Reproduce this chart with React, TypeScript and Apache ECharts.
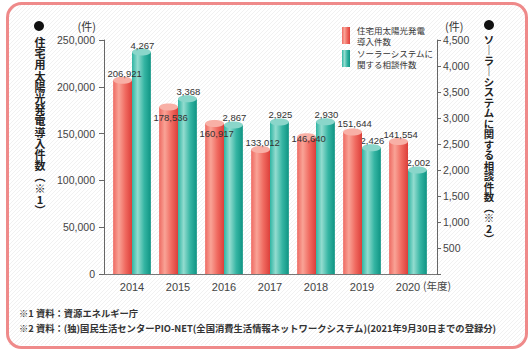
import React, { useEffect, useRef } from "react";
import * as echarts from "echarts";

// ---- data ----
const years = ["2014", "2015", "2016", "2017", "2018", "2019", "2020"];
const solarInstalls = [206921, 178536, 160917, 133012, 146640, 151644, 141554];
const consultations = [4267, 3368, 2867, 2925, 2930, 2426, 2002];
const leftMax = 250000;
const leftInterval = 50000;
const rightMax = 4500;
const rightInterval = 500;

const seriesNames = ["住宅用太陽光発電\n導入件数", "ソーラーシステムに\n関する相談件数"];
const leftTitle = "住宅用太陽光発電導入件数︵※1︶";
const rightTitle = "ソ｜ラ｜システムに関する相談件数︵※2︶";
const unitText = "(件)";
const yearUnit = "(年度)";
const note1 = "※1 資料：資源エネルギー庁";
const note2 = "※2 資料：(独)国民生活センターPIO-NET(全国消費生活情報ネットワークシステム)(2021年9月30日までの登録分)";

// label nudges (vertical, px) to mimic the reference's hand placement
const installLabelNudge = [0, 18, 17, 0, 9, -2, 0];
const consultLabelNudge = [0, 0, 0, 0, 0, 0, 0];

const JP = '"Noto Sans CJK JP", sans-serif';
const NUM = '"Liberation Sans", Arial, sans-serif';

const RED = {
  body: [
    { offset: 0, color: "#ee6a62" },
    { offset: 0.3, color: "#f9a396" },
    { offset: 0.65, color: "#f06a60" },
    { offset: 1, color: "#dc3f3a" },
  ],
  top: "#f8b0a6",
};
const TEAL = {
  body: [
    { offset: 0, color: "#2fb5a3" },
    { offset: 0.3, color: "#93dccf" },
    { offset: 0.65, color: "#35b5a3" },
    { offset: 1, color: "#0f9483" },
  ],
  top: "#8ad6ca",
};

const fmt = (v: number) => v.toLocaleString("en-US");

function makeCylinder(side: number, pal: any, nudges: number[], labelDx: number) {
  return (params: any, api: any) => {
    const i = params.dataIndex;
    const top = api.coord([api.value(0), api.value(1)]);
    const base = api.coord([api.value(0), 0]);
    const band = api.size([1, 0])[0];
    const w = band * 0.41;
    const cx = top[0] + (side * w) / 2;
    const ry = 3.5;
    return {
      type: "group",
      children: [
        {
          type: "rect",
          shape: { x: cx - w / 2, y: top[1], width: w, height: base[1] - top[1] },
          style: { fill: new echarts.graphic.LinearGradient(0, 0, 1, 0, pal.body) },
        },
        {
          type: "ellipse",
          shape: { cx, cy: top[1], rx: w / 2, ry },
          style: { fill: pal.top },
        },
        {
          type: "text",
          x: cx + labelDx,
          y: top[1] - 7 + nudges[i],
          z2: 10,
          style: {
            text: fmt(api.value(1)),
            fill: "#333",
            font: `9.5px ${NUM}`,
            align: "center",
            verticalAlign: "middle",
          },
        },
      ],
    };
  };
}

// faint diagonal hatch of the panel background (decoration only)
function hatch() {
  const x0 = 9, y0 = 5, x1 = 525, y1 = 345, gap = 4;
  const out: any[] = [];
  for (let c = x0 + y0 + gap; c < x1 + y1; c += gap) {
    let ax = c - y1, ay = y1;
    if (ax < x0) { ax = x0; ay = c - x0; }
    let bx = c - y0, by = y0;
    if (bx > x1) { bx = x1; by = c - x1; }
    if (ay < y0 || by > y1) continue;
    out.push({
      type: "line",
      silent: true,
      z: -10,
      shape: { x1: ax, y1: ay, x2: bx, y2: by },
      style: { stroke: "#eeeeee", lineWidth: 0.8 },
    });
  }
  return out;
}

export default function App() {
  const ref = useRef<HTMLDivElement>(null);
  useEffect(() => {
    if (!ref.current) return;
    const chart = echarts.init(ref.current, undefined, { renderer: "svg" });
    const option: any = {
      animation: false,
      backgroundColor: "#ffffff",
      grid: { left: 109, top: 40, width: 322, height: 234 },
      xAxis: {
        type: "category",
        data: years,
        axisLine: { show: false },
        axisTick: { show: false },
        axisLabel: { color: "#444", fontSize: 11, fontFamily: NUM, margin: 7 },
      },
      yAxis: [
        {
          type: "value",
          min: 0,
          max: leftMax,
          interval: leftInterval,
          offset: 5,
          splitLine: { show: false },
          axisLine: { show: true, lineStyle: { color: "#666" } },
          axisTick: { show: true, length: 5, lineStyle: { color: "#666" } },
          axisLabel: {
            color: "#444",
            fontSize: 10.5,
            fontFamily: NUM,
            margin: 9,
            formatter: (v: number) => fmt(v),
          },
        },
        {
          type: "value",
          position: "right",
          min: 0,
          max: rightMax,
          interval: rightInterval,
          offset: 6,
          splitLine: { show: false },
          axisLine: { show: true, lineStyle: { color: "#666" } },
          axisTick: { show: true, length: 4, lineStyle: { color: "#666" } },
          axisLabel: {
            color: "#444",
            fontSize: 10.5,
            fontFamily: NUM,
            margin: 6,
            formatter: (v: number) => (v === 0 ? "" : fmt(v)),
          },
        },
      ],
      series: [
        {
          type: "custom",
          name: seriesNames[1],
          yAxisIndex: 1,
          z: 2,
          renderItem: makeCylinder(1, TEAL, consultLabelNudge, 1),
          encode: { x: 0, y: 1 },
          data: consultations.map((v, i) => [i, v]),
        },
        {
          type: "custom",
          name: seriesNames[0],
          yAxisIndex: 0,
          z: 3,
          renderItem: makeCylinder(-1, RED, installLabelNudge, 2),
          encode: { x: 0, y: 1 },
          data: solarInstalls.map((v, i) => [i, v]),
        },
      ],
      graphic: [
        ...hatch(),
        {
          type: "rect",
          shape: { x: 7.5, y: 3.5, width: 519, height: 344, r: 14 },
          style: { fill: "none", stroke: "#ef8a8a", lineWidth: 3 },
          z: -1,
        },
        {
          type: "line",
          shape: { x1: 104, y1: 274.5, x2: 437, y2: 274.5 },
          style: { stroke: "#777", lineWidth: 1.2 },
        },
        {
          type: "rect",
          shape: { x: 342, y: 27, width: 8, height: 17 },
          style: { fill: new echarts.graphic.LinearGradient(0, 0, 1, 0, RED.body) },
        },
        {
          type: "rect",
          shape: { x: 342, y: 50, width: 8, height: 17 },
          style: { fill: new echarts.graphic.LinearGradient(0, 0, 1, 0, TEAL.body) },
        },
        {
          type: "text",
          x: 357,
          y: 24.5,
          style: { text: seriesNames[0], fill: "#333", font: `8.5px ${JP}`, lineHeight: 11 },
        },
        {
          type: "text",
          x: 357,
          y: 47.5,
          style: { text: seriesNames[1], fill: "#333", font: `8.5px ${JP}`, lineHeight: 11 },
        },
        {
          type: "text",
          x: 96,
          y: 26,
          style: { text: unitText, fill: "#333", font: `11px ${JP}`, align: "right", verticalAlign: "middle" },
        },
        {
          type: "text",
          x: 445,
          y: 26,
          style: { text: unitText, fill: "#333", font: `11px ${JP}`, align: "left", verticalAlign: "middle" },
        },
        {
          type: "text",
          x: 423,
          y: 285,
          style: { text: yearUnit, fill: "#444", font: `10.5px ${JP}`, align: "left", verticalAlign: "middle" },
        },
        {
          type: "circle",
          shape: { cx: 39, cy: 26, r: 5 },
          style: { fill: "#111" },
        },
        {
          type: "circle",
          shape: { cx: 489, cy: 25, r: 5 },
          style: { fill: "#111" },
        },
        {
          type: "text",
          x: 40,
          y: 42 - 5.6,
          style: {
            text: Array.from(leftTitle).join("\n"),
            fill: "#222",
            font: `bold 11px ${JP}`,
            lineHeight: 11.2,
            align: "center",
            verticalAlign: "top",
          },
        },
        {
          type: "text",
          x: 489,
          y: 39 - 5.2,
          style: {
            text: Array.from(rightTitle).join("\n"),
            fill: "#222",
            font: `bold 10.4px ${JP}`,
            lineHeight: 10.5,
            align: "center",
            verticalAlign: "top",
          },
        },
        {
          type: "text",
          x: 19,
          y: 313,
          style: { text: note1, fill: "#333", font: `bold 9.3px ${JP}`, verticalAlign: "middle" },
        },
        {
          type: "text",
          x: 19,
          y: 328,
          style: { text: note2, fill: "#333", font: `bold 9.3px ${JP}`, verticalAlign: "middle" },
        },
      ],
    };
    chart.setOption(option);
    return () => chart.dispose();
  }, []);
  return (
    <div
      ref={ref}
      style={{ position: "fixed", left: 0, top: 0, width: 531, height: 357 }}
    />
  );
}
